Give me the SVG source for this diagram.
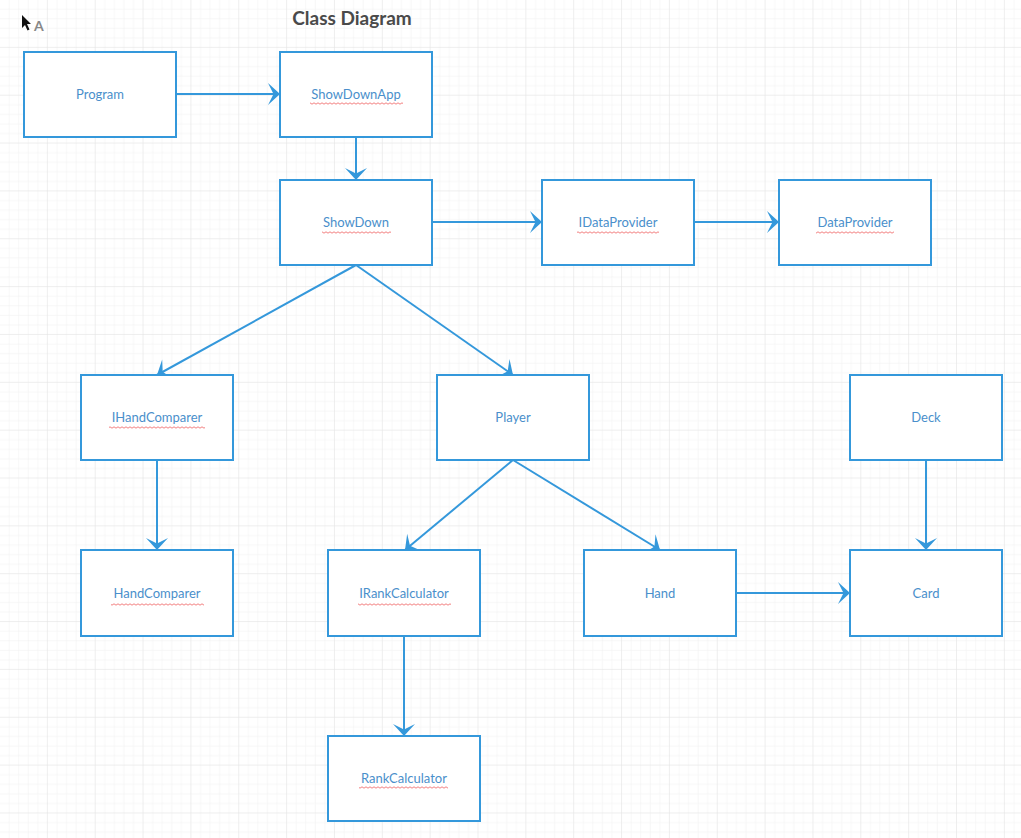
<svg xmlns="http://www.w3.org/2000/svg" width="1021" height="838" viewBox="0 0 1021 838">
  <defs>
    <pattern id="minor" width="9.57" height="9.57" patternUnits="userSpaceOnUse">
      <path d="M9.57 0 V9.57 M0 9.57 H9.57" fill="none" stroke="#efefef" stroke-width="1"/>
    </pattern>
    <pattern id="major" width="47.85" height="47.85" patternUnits="userSpaceOnUse">
      <rect width="47.85" height="47.85" fill="url(#minor)"/>
      <path d="M47.85 0 V47.85 M0 47.85 H47.85" fill="none" stroke="#e4e4e4" stroke-width="1"/>
    </pattern>
    <pattern id="wave" width="4" height="3" patternUnits="userSpaceOnUse">
      <path d="M0 2.2 L2 0.8 L4 2.2" fill="none" stroke="#f07070" stroke-width="0.9"/>
    </pattern>
    <marker id="arrow" viewBox="-13 -12 14 24" refX="0" refY="0" markerWidth="14" markerHeight="24" markerUnits="userSpaceOnUse" orient="auto">
      <path d="M0 0 L-12 -11 L-6.5 0 L-12 11 Z" fill="#3498db"/>
    </marker>
    <style>
      .box { fill: #ffffff; stroke: #3498db; stroke-width: 2; }
      .label { font-family: Lato, "Liberation Sans", sans-serif; font-size: 13px; fill: #4a8fcb; text-anchor: middle; }
      .edge { fill: none; stroke: #3498db; stroke-width: 2; marker-end: url(#arrow); }
      .wave { fill: url(#wave); }
      .title { font-family: Lato, "Liberation Sans", sans-serif; font-size: 19px; font-weight: bold; fill: #4a4a4a; text-anchor: middle; }
    </style>
  </defs>

  <rect width="1021" height="838" fill="#ffffff"/>
  <rect width="1021" height="838" fill="url(#major)"/>

  <g id="toolbar">
    <path d="M22 15 L22 28 L25 25 L27.5 30.5 L29.5 29.5 L27 24 L31 24 Z" fill="#111111"/>
    <text x="34" y="31" font-family="Lato, 'Liberation Sans', sans-serif" font-size="14" font-weight="bold" fill="#888888">A</text>
  </g>

  <text class="title" x="352" y="25">Class Diagram</text>

  <g id="connectors">
    <line class="edge" x1="176" y1="94" x2="280" y2="94"/>
    <line class="edge" x1="356" y1="137" x2="356" y2="180"/>
    <line class="edge" x1="432" y1="222" x2="542" y2="222"/>
    <line class="edge" x1="694" y1="222" x2="779" y2="222"/>
    <line class="edge" x1="356" y1="265" x2="157" y2="375"/>
    <line class="edge" x1="356" y1="265" x2="513" y2="375"/>
    <line class="edge" x1="157" y1="460" x2="157" y2="550"/>
    <line class="edge" x1="513" y1="460" x2="405" y2="550"/>
    <line class="edge" x1="513" y1="460" x2="660" y2="550"/>
    <line class="edge" x1="736" y1="593" x2="850" y2="593"/>
    <line class="edge" x1="926" y1="460" x2="926" y2="550"/>
    <line class="edge" x1="404" y1="636" x2="404" y2="736"/>
  </g>

  <g id="Program">
    <rect class="box" x="24" y="52" width="152" height="85"/>
    <text class="label" x="100" y="99">Program</text>
  </g>
  <g id="ShowDownApp">
    <rect class="box" x="280" y="52" width="152" height="85"/>
    <text class="label" x="356" y="99">ShowDownApp</text>
    <rect class="wave" x="310" y="102" width="93" height="3"/>
  </g>
  <g id="ShowDown">
    <rect class="box" x="280" y="180" width="152" height="85"/>
    <text class="label" x="356" y="227">ShowDown</text>
    <rect class="wave" x="322" y="231" width="69" height="3"/>
  </g>
  <g id="IDataProvider">
    <rect class="box" x="542" y="180" width="152" height="85"/>
    <text class="label" x="618" y="227">IDataProvider</text>
    <rect class="wave" x="577" y="231" width="82" height="3"/>
  </g>
  <g id="DataProvider">
    <rect class="box" x="779" y="180" width="152" height="85"/>
    <text class="label" x="855" y="227">DataProvider</text>
    <rect class="wave" x="816" y="231" width="78" height="3"/>
  </g>
  <g id="IHandComparer">
    <rect class="box" x="81" y="375" width="152" height="85"/>
    <text class="label" x="157" y="422">IHandComparer</text>
    <rect class="wave" x="109" y="426" width="96" height="3"/>
  </g>
  <g id="Player">
    <rect class="box" x="437" y="375" width="152" height="85"/>
    <text class="label" x="513" y="422">Player</text>
  </g>
  <g id="Deck">
    <rect class="box" x="850" y="375" width="152" height="85"/>
    <text class="label" x="926" y="422">Deck</text>
  </g>
  <g id="HandComparer">
    <rect class="box" x="81" y="550" width="152" height="86"/>
    <text class="label" x="157" y="598">HandComparer</text>
    <rect class="wave" x="111" y="603" width="93" height="3"/>
  </g>
  <g id="IRankCalculator">
    <rect class="box" x="328" y="550" width="152" height="86"/>
    <text class="label" x="404" y="598">IRankCalculator</text>
    <rect class="wave" x="358" y="603" width="93" height="3"/>
  </g>
  <g id="Hand">
    <rect class="box" x="584" y="550" width="152" height="86"/>
    <text class="label" x="660" y="598">Hand</text>
  </g>
  <g id="Card">
    <rect class="box" x="850" y="550" width="152" height="86"/>
    <text class="label" x="926" y="598">Card</text>
  </g>
  <g id="RankCalculator">
    <rect class="box" x="328" y="736" width="152" height="85"/>
    <text class="label" x="404" y="783">RankCalculator</text>
    <rect class="wave" x="359" y="786" width="89" height="3"/>
  </g>
</svg>
